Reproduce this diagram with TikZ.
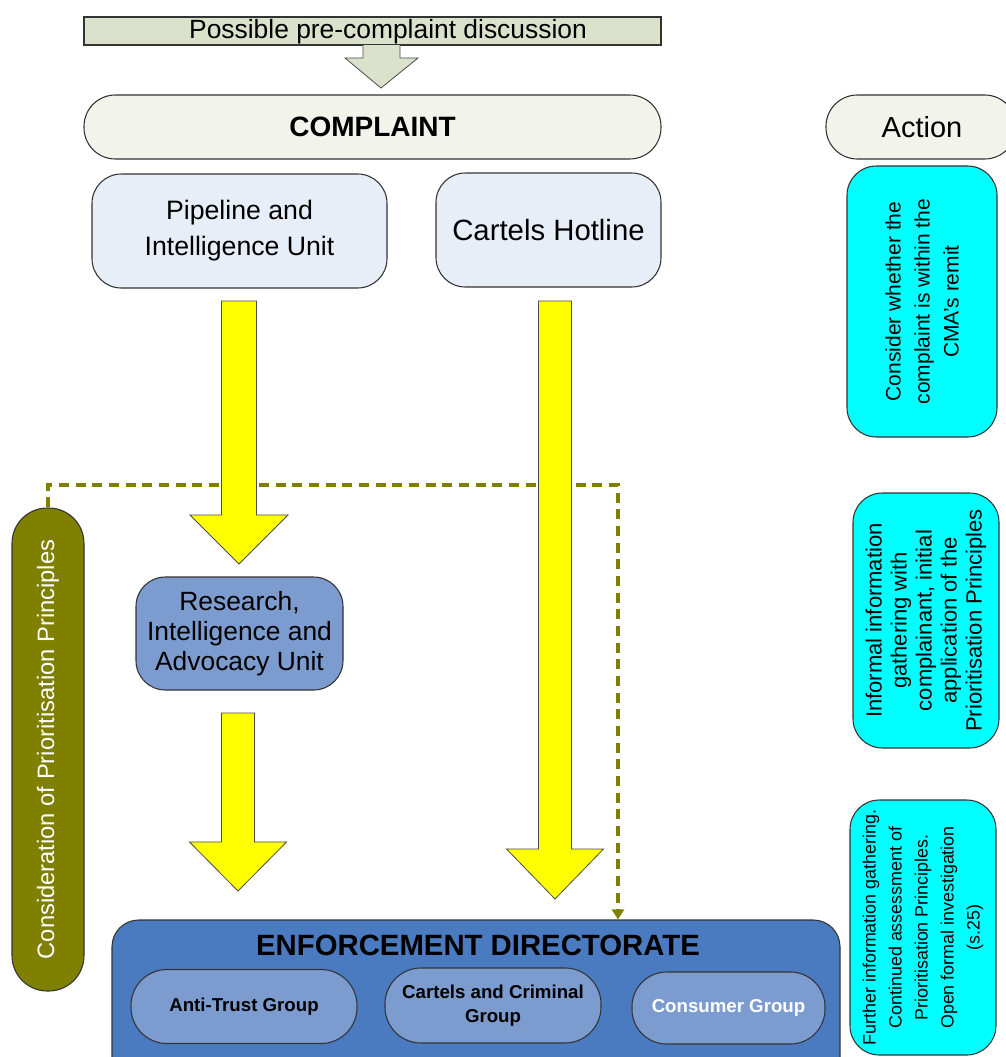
\documentclass[tikz,border=0pt]{standalone}
\usepackage{fontspec}
\setmainfont{Liberation Sans}
\usetikzlibrary{arrows.meta}
\definecolor{bannercol}{RGB}{218,226,203}
\definecolor{paleg}{RGB}{242,244,236}
\definecolor{paleb}{RGB}{232,238,248}
\definecolor{midb}{RGB}{124,156,208}
\definecolor{edb}{RGB}{74,122,192}
\definecolor{olivec}{RGB}{128,128,0}
\definecolor{cyanc}{RGB}{0,255,255}
\definecolor{yellc}{RGB}{255,255,0}
\newcommand\fs[2]{\fontsize{#1}{#2}\selectfont}
\newcommand\blockarr[6]{%
  \filldraw[yarrow] (#1-#5,#2) -- (#1+#5,#2) -- (#1+#5,#3) -- (#1+#6,#3) -- (#1,#4) -- (#1-#6,#3) -- (#1-#5,#3) -- cycle;}
\tikzset{
  sz/.style 2 args={minimum width=#1*0.75pt, minimum height=#2*0.75pt, inner sep=0pt},
  boxline/.style={draw=black!80, line width=0.8pt},
  yarrow/.style={fill=yellc, draw=black!70, line width=0.6pt},
  dashconn/.style={draw=olivec, line width=2.3pt, dash pattern=on 7.5pt off 5pt},
  txt/.style={align=center, text=black}
}
\begin{document}
\begin{tikzpicture}[x=0.75pt,y=-0.75pt]
\clip (0,0) rectangle (1006,1057);
\fill[white] (0,0) rectangle (1006,1057);

% top banner and small arrow
\node[boxline, fill=bannercol, sz={577}{28}] (banner) at (372.5,31) {};
\node[txt, font=\fs{19.8}{22}] (bannertxt) at (388,32) {Possible pre-complaint discussion};
\filldraw[fill=bannercol, draw=black!70, line width=0.6pt] (363,45) -- (363,58) -- (345,58) -- (381,88) -- (418,58) -- (400,58) -- (400,45);

% complaint and action
\node[boxline, fill=paleg, sz={577}{64}, rounded corners=23.5pt, txt, font=\bfseries\fs{21}{24}] (complaint) at (372.5,127) {COMPLAINT};
\node[boxline, fill=paleg, sz={190}{64}, rounded corners=23.5pt] (action) at (921,127) {};
\node[txt, font=\fs{21.75}{24}] (actiontxt) at (922,127) {Action};

% units
\node[boxline, fill=paleb, sz={295}{114}, rounded corners=22pt, txt, font=\fs{20}{27}] (pipe) at (239.5,231) {Pipeline and\\Intelligence Unit};
\node[boxline, fill=paleb, sz={225}{114}, rounded corners=22pt, txt, font=\fs{22}{26}] (hot) at (548.5,230) {Cartels Hotline};
\node[boxline, fill=midb, sz={207}{113}, rounded corners=22pt, txt, font=\fs{19.8}{22.5}] (rau) at (239.5,633.5) {Research,\\Intelligence and\\Advocacy Unit};

% prioritisation (left)
\node[boxline, fill=olivec, rotate=90, sz={483}{72}, rounded corners=26.5pt, align=center, text=white, font=\fs{17.8}{21}] (prio) at (48,749.5) {Consideration of Prioritisation Principles};

% enforcement directorate
\node[boxline, fill=edb, sz={728}{170}, rounded corners=20pt] (ed) at (476,1005) {};
\node[txt, font=\bfseries\fs{22}{25}] (edtitle) at (478,945) {ENFORCEMENT DIRECTORATE};
\node[boxline, fill=midb, sz={226}{74}, rounded corners=27pt, txt, font=\bfseries\fs{14}{18}] (anti) at (244,1006.5) {Anti-Trust Group};
\node[boxline, fill=midb, sz={216}{75}, rounded corners=27pt, txt, font=\bfseries\fs{14}{18}] (crim) at (493,1005.5) {Cartels and Criminal\\Group};
\node[boxline, fill=midb, sz={193}{72}, rounded corners=26pt, align=center, text=white, font=\bfseries\fs{14}{18}] (cons) at (728.5,1008) {Consumer Group};

% right action boxes
\node[boxline, fill=cyanc, rotate=90, sz={271}{150}, rounded corners=22pt, txt, font=\fs{15.75}{21.75}] (c1) at (922,301.5) {Consider whether the\\complaint is within the\\CMA’s remit};
\node[boxline, fill=cyanc, rotate=90, sz={255}{146}, rounded corners=22pt, txt, font=\fs{16.5}{18.75}] (c2) at (926,620.5) {Informal information\\gathering with\\complainant, initial\\application of the\\Prioritisation Principles};
\node[boxline, fill=cyanc, rotate=90, sz={255}{146}, rounded corners=22pt, txt, font=\fs{13.4}{19.5}] (c3) at (923,927.5) {Further information gathering.\\Continued assessment of\\Prioritisation Principles.\\Open formal investigation\\(s.25)};

% dashed connector
\coordinate (dk) at (618,485);
\draw[dashconn, -{Triangle[width=9pt,length=7.5pt]}] (prio.east) |- (dk) -- (dk |- ed.north);

% yellow block arrows
\blockarr{239}{301}{515}{564}{17.5}{49}
\blockarr{238}{713}{842}{891}{16.5}{48.5}
\blockarr{555}{301}{849}{899}{16.5}{48.5}
\end{tikzpicture}
\end{document}
